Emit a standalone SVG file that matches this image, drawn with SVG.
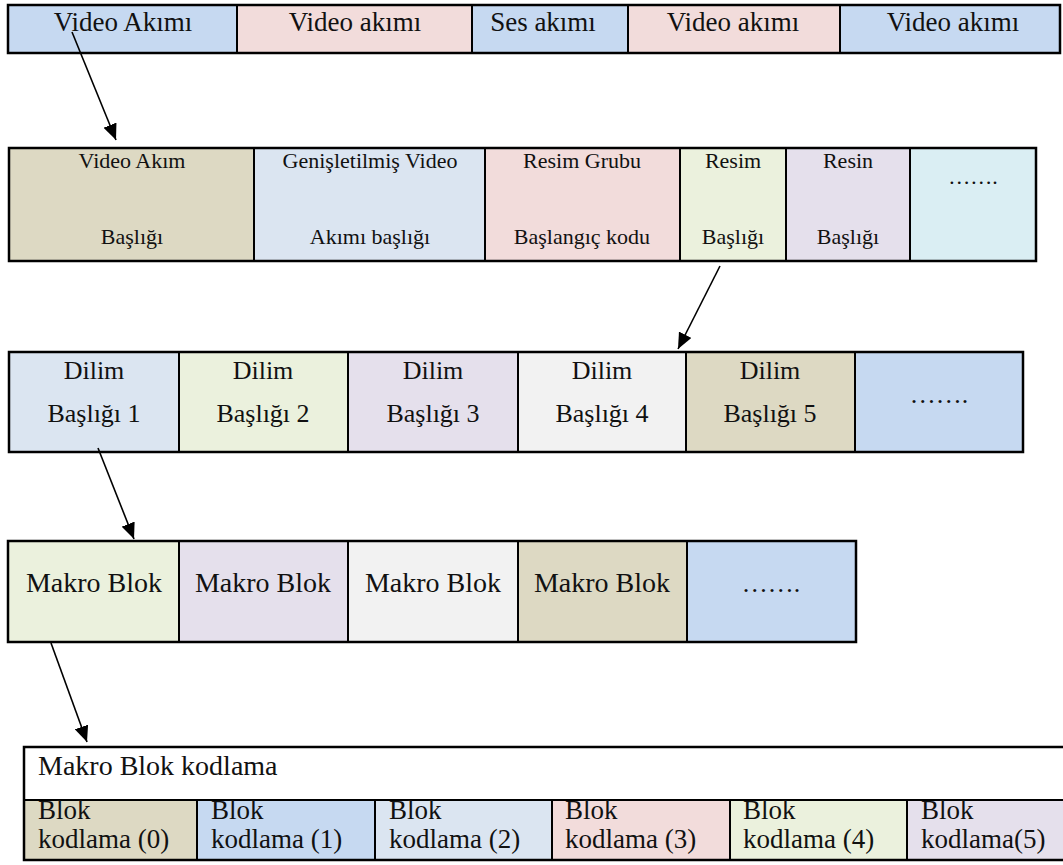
<svg xmlns="http://www.w3.org/2000/svg" width="1063" height="865" viewBox="0 0 1063 865">
  <style>
    .cell { stroke: #000; stroke-width: 2; }
    .frame { fill: none; stroke: #000; stroke-width: 2.5; }
    .t { font-family: "Liberation Serif", "Times New Roman", serif; fill: #111; }
    .c { text-anchor: middle; }
    .f26 { font-size: 26px; }
    .f22 { font-size: 22px; }
    .f27 { font-size: 27px; }
    .f28 { font-size: 28px; }
    .blue { fill: #C6D9F1; }
    .pink { fill: #F2DCDB; }
    .tan { fill: #DDD9C3; }
    .lblue { fill: #DBE5F1; }
    .green { fill: #EBF1DD; }
    .lav { fill: #E5E0EC; }
    .cyan { fill: #DAEEF3; }
    .grey { fill: #F2F2F2; }
    .link { stroke: #000; stroke-width: 1.6; fill: none; marker-end: url(#head); }
  </style>
  <defs>
    <marker id="head" markerUnits="userSpaceOnUse" markerWidth="17" markerHeight="14" refX="16" refY="7" orient="auto">
      <path d="M0,0 L16,7 L0,14 z" fill="#000"/>
    </marker>
  </defs>
  <rect width="1063" height="865" fill="#fff"/>

  <!-- Row 1: stream -->
  <g id="stream">
    <rect class="cell blue" x="8" y="5" width="229" height="48"/>
    <rect class="cell pink" x="237" y="5" width="235" height="48"/>
    <rect class="cell blue" x="472" y="5" width="156" height="48"/>
    <rect class="cell pink" x="628" y="5" width="212" height="48"/>
    <rect class="cell blue" x="840" y="5" width="220" height="48"/>
    <rect class="frame" x="8" y="5" width="1052" height="48"/>
    <text class="t c f27" x="123" y="31">Video Akımı</text>
    <text class="t c f27" x="355" y="31">Video akımı</text>
    <text class="t c f27" x="543" y="31">Ses akımı</text>
    <text class="t c f27" x="733" y="31">Video akımı</text>
    <text class="t c f27" x="953" y="31">Video akımı</text>
  </g>

  <!-- Row 2: video stream headers -->
  <g id="video-stream">
    <rect class="cell tan" x="9" y="148" width="245" height="113"/>
    <rect class="cell lblue" x="254" y="148" width="231" height="113"/>
    <rect class="cell pink" x="485" y="148" width="195" height="113"/>
    <rect class="cell green" x="680" y="148" width="106" height="113"/>
    <rect class="cell lav" x="786" y="148" width="124" height="113"/>
    <rect class="cell cyan" x="910" y="148" width="126" height="113"/>
    <rect class="frame" x="9" y="148" width="1027" height="113"/>
    <text class="t c f22" x="132" y="168">Video Akım</text>
    <text class="t c f22" x="132" y="244">Başlığı</text>
    <text class="t c f22" x="370" y="168">Genişletilmiş Video</text>
    <text class="t c f22" x="370" y="244">Akımı başlığı</text>
    <text class="t c f22" x="582" y="168">Resim Grubu</text>
    <text class="t c f22" x="582" y="244">Başlangıç kodu</text>
    <text class="t c f22" x="733" y="168">Resim</text>
    <text class="t c f22" x="733" y="244">Başlığı</text>
    <text class="t c f22" x="848" y="168">Resin</text>
    <text class="t c f22" x="848" y="244">Başlığı</text>
    <text class="t c f22" x="973" y="184">…….</text>
  </g>

  <!-- Row 3: slices -->
  <g id="slices">
    <rect class="cell lblue" x="9" y="352" width="170" height="100"/>
    <rect class="cell green" x="179" y="352" width="169" height="100"/>
    <rect class="cell lav" x="348" y="352" width="170" height="100"/>
    <rect class="cell grey" x="518" y="352" width="168" height="100"/>
    <rect class="cell tan" x="686" y="352" width="169" height="100"/>
    <rect class="cell blue" x="855" y="352" width="168" height="100"/>
    <rect class="frame" x="9" y="352" width="1014" height="100"/>
    <text class="t c f26" x="94" y="379">Dilim</text>
    <text class="t c f26" x="94" y="422">Başlığı 1</text>
    <text class="t c f26" x="263" y="379">Dilim</text>
    <text class="t c f26" x="263" y="422">Başlığı 2</text>
    <text class="t c f26" x="433" y="379">Dilim</text>
    <text class="t c f26" x="433" y="422">Başlığı 3</text>
    <text class="t c f26" x="602" y="379">Dilim</text>
    <text class="t c f26" x="602" y="422">Başlığı 4</text>
    <text class="t c f26" x="770" y="379">Dilim</text>
    <text class="t c f26" x="770" y="422">Başlığı 5</text>
    <text class="t c f26" x="939" y="403">…….</text>
  </g>

  <!-- Row 4: macroblocks -->
  <g id="macroblocks">
    <rect class="cell green" x="8" y="541" width="171" height="101"/>
    <rect class="cell lav" x="179" y="541" width="169" height="101"/>
    <rect class="cell grey" x="348" y="541" width="170" height="101"/>
    <rect class="cell tan" x="518" y="541" width="169" height="101"/>
    <rect class="cell blue" x="687" y="541" width="169" height="101"/>
    <rect class="frame" x="8" y="541" width="848" height="101"/>
    <text class="t c f28" x="94" y="592">Makro Blok</text>
    <text class="t c f28" x="263" y="592">Makro Blok</text>
    <text class="t c f28" x="433" y="592">Makro Blok</text>
    <text class="t c f28" x="602" y="592">Makro Blok</text>
    <text class="t c f26" x="771" y="592">…….</text>
  </g>

  <!-- Row 5: macroblock coding -->
  <g id="macroblock-coding">
    <rect x="24" y="747" width="1060" height="53" fill="#fff"/>
    <rect class="cell tan" x="24" y="800" width="173" height="60"/>
    <rect class="cell blue" x="197" y="800" width="178" height="60"/>
    <rect class="cell lblue" x="375" y="800" width="177" height="60"/>
    <rect class="cell pink" x="552" y="800" width="178" height="60"/>
    <rect class="cell green" x="730" y="800" width="177" height="60"/>
    <rect class="cell lav" x="907" y="800" width="177" height="60"/>
    <rect class="frame" x="24" y="747" width="1060" height="113"/>
    <text class="t f28" x="38" y="775">Makro Blok kodlama</text>
    <text class="t f27" x="38" y="819">Blok</text>
    <text class="t f27" x="38" y="848">kodlama (0)</text>
    <text class="t f27" x="211" y="819">Blok</text>
    <text class="t f27" x="211" y="848">kodlama (1)</text>
    <text class="t f27" x="389" y="819">Blok</text>
    <text class="t f27" x="389" y="848">kodlama (2)</text>
    <text class="t f27" x="565" y="819">Blok</text>
    <text class="t f27" x="565" y="848">kodlama (3)</text>
    <text class="t f27" x="743" y="819">Blok</text>
    <text class="t f27" x="743" y="848">kodlama (4)</text>
    <text class="t f27" x="921" y="819">Blok</text>
    <text class="t f27" x="921" y="848">kodlama(5)</text>
  </g>

  <!-- Connectors between levels -->
  <g id="connectors">
    <line class="link" x1="72" y1="32" x2="116" y2="140"/>
    <line class="link" x1="720" y1="266" x2="678" y2="349"/>
    <line class="link" x1="98" y1="448" x2="134" y2="539"/>
    <line class="link" x1="51" y1="643" x2="87" y2="742"/>
  </g>
</svg>
